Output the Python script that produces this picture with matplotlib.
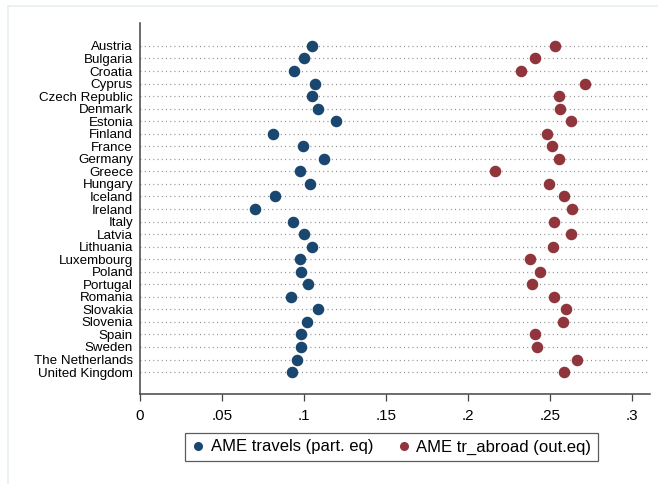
import matplotlib.pyplot as plt
from matplotlib.patches import Rectangle
from matplotlib.lines import Line2D
import numpy as np

plt.rcParams['font.family'] = ['Liberation Sans', 'DejaVu Sans']

countries = ['Austria', 'Bulgaria', 'Croatia', 'Cyprus', 'Czech Republic', 'Denmark',
             'Estonia', 'Finland', 'France', 'Germany', 'Greece', 'Hungary', 'Iceland',
             'Ireland', 'Italy', 'Latvia', 'Lithuania', 'Luxembourg', 'Poland', 'Portugal',
             'Romania', 'Slovakia', 'Slovenia', 'Spain', 'Sweden', 'The Netherlands',
             'United Kingdom']

# AME of travels (participation equation)
ame_travels = [0.105, 0.100, 0.094, 0.107, 0.1047, 0.1085, 0.1195, 0.0813, 0.0996,
               0.1124, 0.0976, 0.1035, 0.0825, 0.0701, 0.0933, 0.1002, 0.1049,
               0.0974, 0.0980, 0.1022, 0.0919, 0.1087, 0.1020, 0.0984, 0.0980,
               0.0959, 0.0925]

# AME of tr_abroad (outcome equation)
ame_abroad = [0.2532, 0.2407, 0.2321, 0.2711, 0.2555, 0.2559, 0.2630, 0.2480, 0.2514,
              0.2557, 0.2165, 0.2492, 0.2587, 0.2636, 0.2524, 0.2630, 0.2520,
              0.2378, 0.2437, 0.2390, 0.2524, 0.2596, 0.2577, 0.2409, 0.2419,
              0.2663, 0.2584]

xticks = [0, 0.05, 0.1, 0.15, 0.2, 0.25, 0.3]
xticklabels = ['0', '.05', '.1', '.15', '.2', '.25', '.3']

blue = '#1a476f'
red = '#90353b'

W, H = 658, 484
fig = plt.figure(figsize=(W / 100, H / 100), dpi=100)

# faint graph-region border (left and top edges)
fig.patches.append(Rectangle((8 / W, -0.1), 1.2, (H - 6) / H + 0.1, transform=fig.transFigure,
                             fill=False, edgecolor='#e6eff0', linewidth=1.2))

ax = fig.add_axes([140 / W, 1 - 394 / H, (650 - 140) / W, (394 - 23) / H])

n = len(countries)
y = np.arange(n)

# dotted row guides
for yi in y:
    ax.plot([0, 0.309], [yi, yi], color='#8c8c8c', linewidth=0.9,
            linestyle=(0, (0.8, 2.6)), zorder=1)

ax.plot(ame_travels, y, 'o', color=blue, markersize=7.3, linestyle='', zorder=3)
ax.plot(ame_abroad, y, 'o', color=red, markersize=7.3, linestyle='', zorder=3)

ax.set_xlim(0, 0.311)
ax.set_ylim(n - 1 + 1.75, -1.83)
ax.set_yticks(y)
ax.set_yticklabels(countries, fontsize=9.6)
ax.set_xticks(xticks)
ax.set_xticklabels(xticklabels, fontsize=10.9)
ax.tick_params(axis='y', length=0, pad=5)
ax.tick_params(axis='x', length=5, width=0.9, color='#444444', pad=6)

for s in ['top', 'right']:
    ax.spines[s].set_visible(False)
for s in ['left', 'bottom']:
    ax.spines[s].set_color('#444444')
    ax.spines[s].set_linewidth(1.1)

handles = [Line2D([], [], marker='o', color=blue, linestyle='', markersize=5.5),
           Line2D([], [], marker='o', color=red, linestyle='', markersize=5.5)]
leg = fig.legend(handles, ['AME travels (part. eq)', 'AME tr_abroad (out.eq)'],
                 loc='center', bbox_to_anchor=(391.5 / W, 1 - 447 / H), ncol=2,
                 fontsize=12, frameon=True, fancybox=False, edgecolor='#333333',
                 handletextpad=0.35, columnspacing=1.45, borderpad=0.4,
                 handlelength=0.8, borderaxespad=0)
leg.get_frame().set_linewidth(0.9)

plt.savefig('out.png', dpi=100)
